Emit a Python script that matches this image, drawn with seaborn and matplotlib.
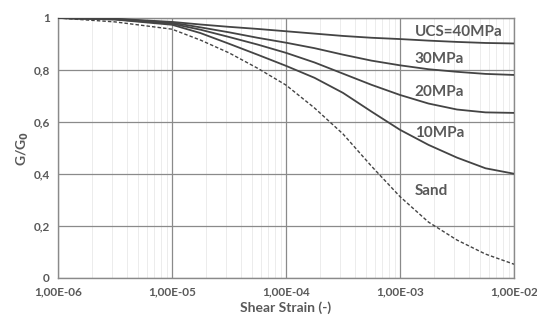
import numpy as np
import pandas as pd
import matplotlib
matplotlib.use("Agg")
import matplotlib.pyplot as plt
import matplotlib.ticker as mticker
import seaborn as sns

# log10 of shear strain
log_strain = [-6, -5.5, -5, -4.75, -4.5, -4.25, -4, -3.75, -3.5, -3.25, -3, -2.75, -2.5, -2.25, -2]
ucs40 = [1.0, 0.997, 0.985, 0.975, 0.966, 0.958, 0.949, 0.940, 0.931, 0.924, 0.919, 0.913, 0.908, 0.904, 0.902]
ucs30 = [1.0, 0.996, 0.982, 0.964, 0.945, 0.924, 0.905, 0.884, 0.859, 0.836, 0.818, 0.803, 0.793, 0.785, 0.781]
ucs20 = [1.0, 0.995, 0.978, 0.955, 0.927, 0.898, 0.866, 0.829, 0.786, 0.743, 0.704, 0.671, 0.648, 0.637, 0.635]
ucs10 = [1.0, 0.994, 0.974, 0.942, 0.901, 0.859, 0.816, 0.770, 0.712, 0.640, 0.570, 0.512, 0.463, 0.422, 0.401]
sand = [1.0, 0.985, 0.957, 0.915, 0.866, 0.807, 0.742, 0.654, 0.554, 0.430, 0.313, 0.215, 0.146, 0.092, 0.053]

labels = ["UCS=40MPa", "30MPa", "20MPa", "10MPa", "Sand"]
label_y = [0.945, 0.841, 0.716, 0.559, 0.333]
xticks = [1e-6, 1e-5, 1e-4, 1e-3, 1e-2]
xtick_labels = ["1,00E-06", "1,00E-05", "1,00E-04", "1,00E-03", "1,00E-02"]
yticks = [0, 0.2, 0.4, 0.6, 0.8, 1.0]
ytick_labels = ["0", "0,2", "0,4", "0,6", "0,8", "1"]

sns.set_style("white")
plt.rcParams['font.family'] = ['Lato', 'DejaVu Sans']

strain = [10 ** v for v in log_strain]
df = pd.DataFrame({"strain": strain, "40": ucs40, "30": ucs30, "20": ucs20, "10": ucs10, "sand": sand})

fig = plt.figure(figsize=(5.37, 3.23), dpi=100)
ax = fig.add_axes([58 / 537, 1 - 278 / 323, (514 - 58) / 537, (278 - 18) / 323])

line_color = "#444444"
text_color = "#595959"
for col in ["40", "30", "20", "10"]:
    sns.lineplot(data=df, x="strain", y=col, ax=ax, color=line_color, lw=1.3, zorder=3)
sns.lineplot(data=df, x="strain", y="sand", ax=ax, color=line_color, lw=1.0,
             linestyle=(0, (2.5, 1.5)), zorder=3)

ax.set_xscale("log")
ax.set_xlim(1e-6, 1e-2)
ax.set_ylim(0, 1)
ax.set_xticks(xticks)
ax.set_xticklabels(xtick_labels)
ax.set_yticks(yticks)
ax.set_yticklabels(ytick_labels)
ax.xaxis.set_minor_locator(mticker.LogLocator(base=10, subs=np.arange(2, 10)))
ax.xaxis.set_minor_formatter(mticker.NullFormatter())

ax.grid(True, which="major", color="#8a8a8a", lw=0.9, zorder=1)
ax.grid(True, which="minor", axis="x", color="#ececec", lw=0.7, zorder=0)
ax.set_axisbelow(True)
for s in ax.spines.values():
    s.set_color("#8a8a8a")
    s.set_linewidth(1.0)

ax.tick_params(axis="both", which="both", length=0, colors=text_color, labelsize=8.5, pad=6)
for lab in ax.get_xticklabels() + ax.get_yticklabels():
    lab.set_fontweight("bold")
    lab.set_color(text_color)

ax.set_xlabel("Shear Strain (-)", fontsize=10, fontweight="bold", color=text_color, labelpad=3)
ax.set_ylabel("G/G$_\\mathbf{0}$", fontsize=10, fontweight="bold", color=text_color, labelpad=2)

for lab, yv in zip(labels, label_y):
    ax.text(0.782, yv, lab, transform=ax.transAxes,
            fontsize=11, fontweight="bold", color=text_color, va="center", ha="left", zorder=4)

ax.set_facecolor("white")
fig.savefig("out.png", dpi=100, facecolor="white")
